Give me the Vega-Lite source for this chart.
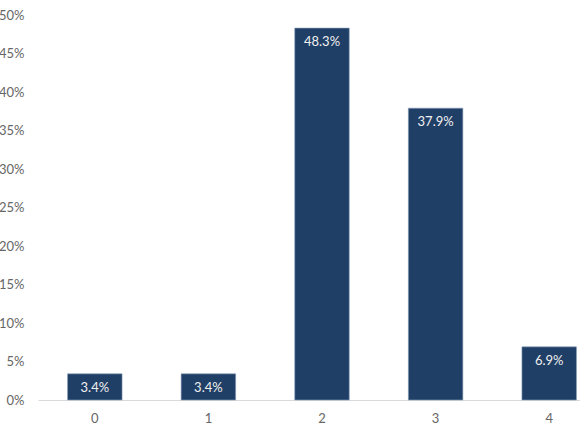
{
  "$schema": "https://vega.github.io/schema/vega-lite/v6.json",
  "autosize": "none",
  "width": 568,
  "height": 385,
  "padding": {"left": 38, "top": 15, "right": 0, "bottom": 35},
  "background": "white",
  "config": {"view": {"stroke": null}, "font": "Lato"},
  "data": {"values": [
    {"k": "0", "v": 0.034, "label": "3.4%"},
    {"k": "1", "v": 0.034, "label": "3.4%"},
    {"k": "2", "v": 0.483, "label": "48.3%"},
    {"k": "3", "v": 0.379, "label": "37.9%"},
    {"k": "4", "v": 0.069, "label": "6.9%"}
  ]},
  "encoding": {
    "x": {"field": "k", "type": "nominal", "scale": {"paddingInner": 0.52, "paddingOuter": 0.26},
      "axis": {"title": null, "labelAngle": 0, "ticks": false, "domainColor": "#d9d9d9", "labelColor": "#666666", "labelFontSize": 13, "labelPadding": 12, "labelFont": "Lato"}},
    "y": {"field": "v", "type": "quantitative", "scale": {"domain": [0, 0.5]},
      "axis": {"title": null, "format": ".0%", "values": [0,0.05,0.1,0.15,0.2,0.25,0.3,0.35,0.4,0.45,0.5], "labelOverlap": false, "labelBound": false, "labelFlush": false, "grid": false, "domain": false, "ticks": false, "labelColor": "#666666", "labelFontSize": 13, "labelPadding": 14, "labelFont": "Lato"}}
  },
  "layer": [
    {"mark": {"type": "bar", "color": "#203f66", "stroke": "#8aa0bb", "strokeWidth": 0.6}},
    {"mark": {"type": "text", "color": "#f0f0f0", "baseline": "top", "dy": 8, "fontSize": 13, "font": "Lato"},
     "encoding": {"text": {"field": "label"}}}
  ]
}
